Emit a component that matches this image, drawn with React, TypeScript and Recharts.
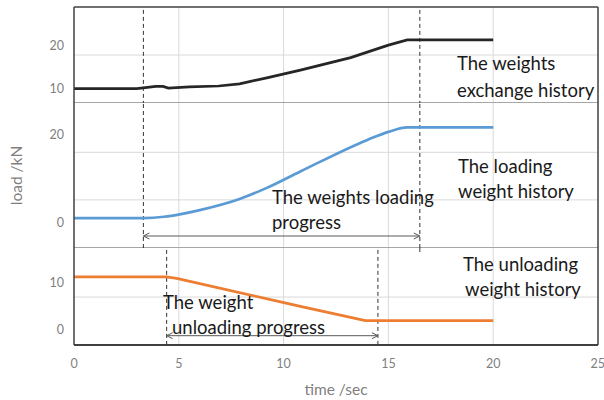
import React from "react";
import {
  LineChart,
  Line,
  XAxis,
  YAxis,
  CartesianGrid,
  ReferenceLine,
} from "recharts";

// time axis (sec)
const xTicks = [0, 5, 10, 15, 20, 25];
const xGrid = [5, 10, 15, 20];

// the weights exchange history
const exchangeTime = [0, 3.0, 3.9, 4.25, 4.5, 5.5, 6.9, 7.9, 9.2, 10.8, 13.2, 15.0, 15.9, 20];
const exchangeLoad = [10.1, 10.1, 10.6, 10.6, 10.2, 10.5, 10.7, 11.2, 12.6, 14.4, 17.3, 20.2, 21.4, 21.4];

// the loading weight history
const loadingTime = [0, 3.3, 4.3, 5.1, 6.0, 7.9, 9.2, 10.8, 14.0, 15.0, 15.9, 20];
const loadingLoad = [1.1, 1.1, 1.4, 2.0, 2.9, 5.4, 7.9, 11.6, 18.7, 20.5, 21.5, 21.5];

// the unloading weight history
const unloadingTime = [0, 4.4, 4.9, 10.8, 13.9, 20];
const unloadingLoad = [11.2, 11.2, 10.9, 4.9, 1.85, 1.85];

// progress markers (sec)
const loadingStart = 3.31;
const loadingEnd = 16.5;
const unloadingStart = 4.42;
const unloadingEnd = 14.5;

const W = 604;
const AXIS = "#404040";
const SEP = "#a6a6a6";
const GRID = "#d9d9d9";
const TICK = { fill: "#7f7f7f", fontSize: 12.5, fontFamily: "Lato" };

const toRows = (t: number[], v: number[]) => t.map((x, i) => ({ t: x, v: v[i] }));

const ArrowShape = (props: any) => {
  const { x1, y1, x2, y2 } = props;
  return (
    <g>
      <line x1={x1} y1={y1} x2={x2} y2={y2} stroke="#595959" strokeWidth={1} />
      <path d={`M${x1 + 6},${y1 - 3} L${x1},${y1} L${x1 + 6},${y1 + 3}`} fill="none" stroke="#595959" />
      <path d={`M${x2 - 6},${y2 - 3} L${x2},${y2} L${x2 - 6},${y2 + 3}`} fill="none" stroke="#595959" />
    </g>
  );
};

const dash = { stroke: "#333", strokeDasharray: "4 3", strokeWidth: 1 };

const note: React.CSSProperties = {
  position: "absolute",
  fontFamily: "Lato",
  fontSize: 18.5,
  lineHeight: "22px",
  color: "#1a1a1a",
  whiteSpace: "nowrap",
};

const Note = ({ x, cy, text }: { x: number; cy: number; text: string }) => (
  <div style={{ ...note, left: x, top: cy - 11 }}>{text}</div>
);

const App = () => {
  const d1: [number, number] = [6.74, 29.07];
  const d2: [number, number] = [-5.63, 27.0];
  const d3: [number, number] = [-3.36, 17.4];
  return (
    <div style={{ position: "absolute", left: 0, top: 0, width: W, height: 400, background: "#fff" }}>
      {/* top panel: exchange history */}
      <div style={{ position: "absolute", left: 0, top: 0 }}>
        <LineChart width={W} height={103} data={toRows(exchangeTime, exchangeLoad)}
          margin={{ top: 7, right: 6, left: 0, bottom: 0 }}>
          <CartesianGrid stroke={GRID} verticalValues={xGrid} horizontalValues={[17.9]} />
          <XAxis type="number" dataKey="t" domain={[0, 25]} ticks={xTicks} hide />
          <YAxis type="number" domain={d1} ticks={[10, 20]} allowDataOverflow width={74}
            tick={TICK} tickLine={false} tickSize={0} tickMargin={10}
            axisLine={{ stroke: AXIS, strokeWidth: 1.5 }} />
          <ReferenceLine y={d1[1]} stroke={AXIS} strokeWidth={1.5} ifOverflow="visible" />
          <ReferenceLine y={d1[0]} stroke={SEP} strokeWidth={2} ifOverflow="visible" />
          <ReferenceLine x={25} stroke={AXIS} strokeWidth={1.5} ifOverflow="visible" />
          <ReferenceLine segment={[{ x: loadingStart, y: 28.4 }, { x: loadingStart, y: d1[0] }]} {...dash} ifOverflow="visible" />
          <ReferenceLine segment={[{ x: loadingEnd, y: 28.4 }, { x: loadingEnd, y: d1[0] }]} {...dash} ifOverflow="visible" />
          <Line type="linear" dataKey="v" stroke="#262626" strokeWidth={2.7} dot={false} isAnimationActive={false} />
        </LineChart>
      </div>

      {/* middle panel: loading history */}
      <div style={{ position: "absolute", left: 0, top: 103 }}>
        <LineChart width={W} height={145} data={toRows(loadingTime, loadingLoad)}
          margin={{ top: 0, right: 6, left: 0, bottom: 0 }}>
          <CartesianGrid stroke={GRID} verticalValues={xGrid} horizontalValues={[5.2, 15.9]} />
          <XAxis type="number" dataKey="t" domain={[0, 25]} ticks={xTicks} hide />
          <YAxis type="number" domain={d2} ticks={[0, 20]} allowDataOverflow width={74}
            tick={TICK} tickLine={false} tickSize={0} tickMargin={10}
            axisLine={{ stroke: AXIS, strokeWidth: 1.5 }}
            label={{ value: "load /kN", angle: -90, position: "insideLeft", offset: 16,
              textAnchor: "middle", fill: "#7f7f7f", fontSize: 15.5, fontFamily: "Lato" }} />
          <ReferenceLine y={d2[0]} stroke={SEP} strokeWidth={2} ifOverflow="visible" />
          <ReferenceLine x={25} stroke={AXIS} strokeWidth={1.5} ifOverflow="visible" />
          <ReferenceLine x={loadingStart} {...dash} />
          <ReferenceLine x={loadingEnd} {...dash} />
          <ReferenceLine segment={[{ x: loadingStart, y: -2.93 }, { x: loadingEnd, y: -2.93 }]}
            shape={ArrowShape} ifOverflow="visible" />
          <Line type="monotone" dataKey="v" stroke="#5B9BD5" strokeWidth={2.7} dot={false} isAnimationActive={false} />
        </LineChart>
      </div>

      {/* bottom panel: unloading history */}
      <div style={{ position: "absolute", left: 0, top: 248 }}>
        <LineChart width={W} height={152} data={toRows(unloadingTime, unloadingLoad)}
          margin={{ top: 0, right: 6, left: 0, bottom: 0 }}>
          <CartesianGrid stroke={GRID} verticalValues={xGrid} horizontalValues={[6.9]} />
          <XAxis type="number" dataKey="t" domain={[0, 25]} ticks={xTicks} height={55}
            tick={TICK} tickLine={false} tickSize={0} tickMargin={14}
            axisLine={{ stroke: AXIS, strokeWidth: 2 }}
            label={{ value: "time /sec", position: "insideBottom", offset: 5,
              fill: "#7f7f7f", fontSize: 15.5, fontFamily: "Lato" }} />
          <YAxis type="number" domain={d3} ticks={[0, 10]} allowDataOverflow width={74}
            tick={TICK} tickLine={false} tickSize={0} tickMargin={10}
            axisLine={{ stroke: AXIS, strokeWidth: 1.5 }} />
          <ReferenceLine x={25} stroke={AXIS} strokeWidth={1.5} ifOverflow="visible" />
          <ReferenceLine segment={[{ x: loadingEnd, y: d3[1] }, { x: loadingEnd, y: 16.55 }]} {...dash} ifOverflow="visible" />
          <ReferenceLine segment={[{ x: unloadingStart, y: 17.0 }, { x: unloadingStart, y: d3[0] }]} {...dash} ifOverflow="visible" />
          <ReferenceLine segment={[{ x: unloadingEnd, y: 17.0 }, { x: unloadingEnd, y: d3[0] }]} {...dash} ifOverflow="visible" />
          <ReferenceLine segment={[{ x: unloadingStart, y: -1.37 }, { x: unloadingEnd, y: -1.37 }]}
            shape={ArrowShape} ifOverflow="visible" />
          <Line type="linear" dataKey="v" stroke="#ED7D31" strokeWidth={2.7} dot={false} isAnimationActive={false} />
        </LineChart>
      </div>

      <Note x={457} cy={63} text="The weights" />
      <Note x={457} cy={90} text="exchange history" />
      <Note x={458} cy={166} text="The loading" />
      <Note x={458} cy={191} text="weight history" />
      <Note x={272} cy={197} text="The weights loading" />
      <Note x={272} cy={222} text="progress" />
      <Note x={463} cy={264} text="The unloading" />
      <Note x={465} cy={289} text="weight history" />
      <Note x={163} cy={302} text="The weight" />
      <Note x={172} cy={327} text="unloading progress" />
    </div>
  );
};

export default App;
